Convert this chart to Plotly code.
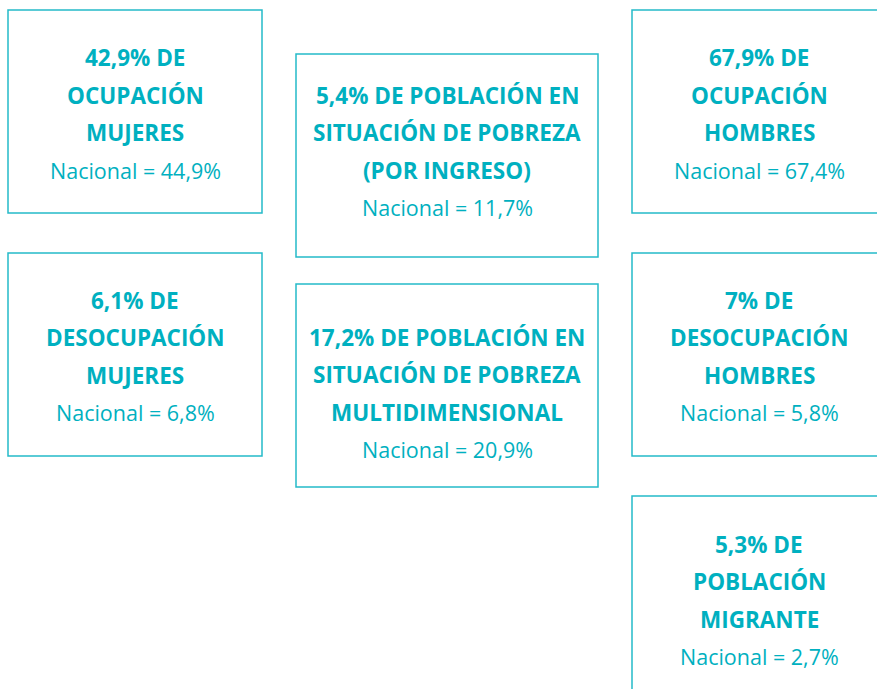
import plotly.graph_objects as go

# ---- data ----
headlines = [
    ["42,9% DE", "OCUPACIÓN", "MUJERES"],
    ["5,4% DE POBLACIÓN EN", "SITUACIÓN DE POBREZA", "(POR INGRESO)"],
    ["67,9% DE", "OCUPACIÓN", "HOMBRES"],
    ["6,1% DE", "DESOCUPACIÓN", "MUJERES"],
    ["17,2% DE POBLACIÓN EN", "SITUACIÓN DE POBREZA", "MULTIDIMENSIONAL"],
    ["7% DE", "DESOCUPACIÓN", "HOMBRES"],
    ["5,3% DE", "POBLACIÓN", "MIGRANTE"],
]
nacional = ["44,9%", "11,7%", "67,4%", "6,8%", "20,9%", "5,8%", "2,7%"]

# ---- layout (pixel space of the page): box rect + vertical centre of its text block ----
boxes = [
    (8, 10, 262, 213, 114),
    (296, 54, 598, 257, 151.5),
    (632, 10, 886, 213, 114),
    (8, 253, 262, 456, 356.5),
    (296, 284, 598, 487, 393.5),
    (632, 253, 886, 456, 356.5),
    (632, 496, 886, 699, 600.5),
]

TEXT = "#00B0C0"
BORDER = "#25BAC9"
LINE_H = 37.5

fig = go.Figure()
fig.add_trace(go.Scatter(x=[0, 877], y=[0, 689], mode="markers",
                         marker=dict(opacity=0), hoverinfo="skip", showlegend=False))

shapes = []
annotations = []
for (x0, y0, x1, y1, cy), lines, nat in zip(boxes, headlines, nacional):
    shapes.append(dict(type="rect", xref="x", yref="y", x0=x0, y0=y0, x1=x1, y1=y1,
                       line=dict(color=BORDER, width=1.5), fillcolor="rgba(0,0,0,0)"))
    cx = (x0 + x1) / 2
    all_lines = lines + [None]
    n = len(all_lines)
    for i, ln in enumerate(all_lines):
        yy = cy + (i - (n - 1) / 2) * LINE_H
        txt = ("<b>" + ln + "</b>") if ln else ("Nacional = " + nat)
        annotations.append(dict(x=cx, y=yy, xref="x", yref="y", showarrow=False,
                                text=txt,
                                font=dict(family="Open Sans", size=22.5 if ln else 21.5, color=TEXT),
                                xanchor="center", yanchor="middle"))

fig.update_layout(
    width=877, height=689,
    margin=dict(l=0, r=0, t=0, b=0),
    paper_bgcolor="white", plot_bgcolor="white",
    xaxis=dict(range=[0, 877], visible=False, fixedrange=True),
    yaxis=dict(range=[689, 0], visible=False, fixedrange=True),
    shapes=shapes, annotations=annotations,
    showlegend=False,
)
fig.write_html("out.html", config={"displayModeBar": False},
               post_script="document.body.style.margin='0';document.body.style.overflow='hidden';")
